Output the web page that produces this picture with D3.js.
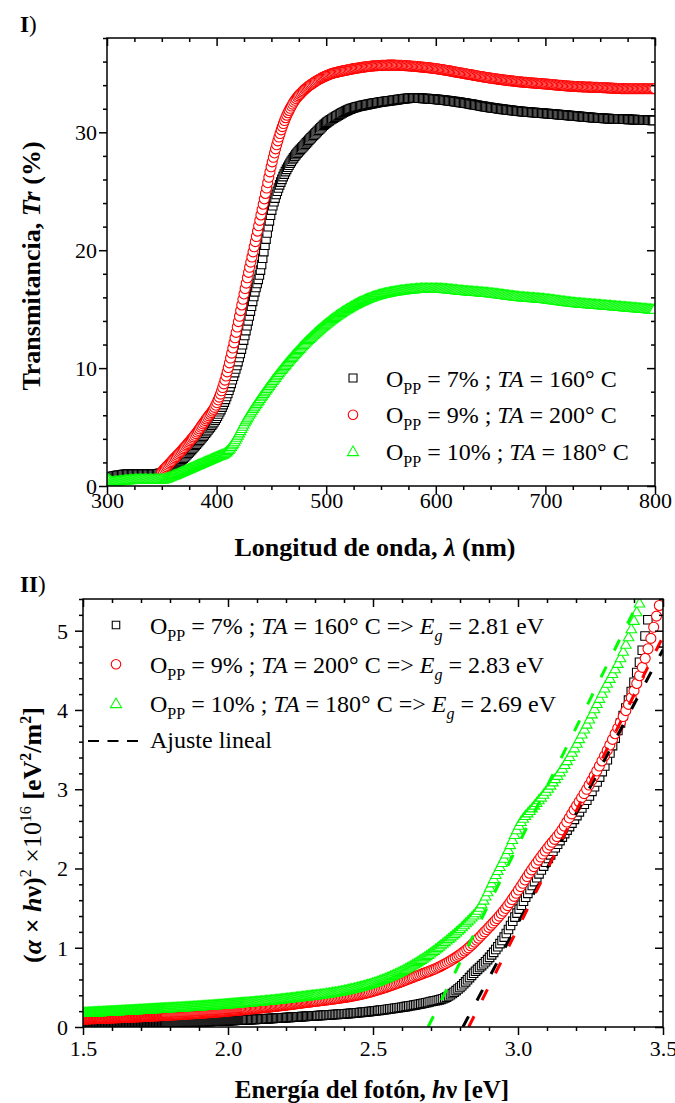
<!DOCTYPE html>
<html>
<head>
<meta charset="utf-8">
<script src="https://cdn.jsdelivr.net/npm/d3@7"></script>
<style>
  body { margin: 0; background: #fff; }
  text { font-family: "Liberation Serif", "Times New Roman", serif; fill: #000; white-space: pre; }
</style>
</head>
<body>
<script>
// ---------------- data ----------------
// legend pieces
var legendPP = ["7%", "9%", "10%"];
var legendTA = ["160", "200", "180"];
var legendEg = ["2.81", "2.83", "2.69"];
var seriesColor = ["#000000", "#ff0000", "#00ff00"];
var seriesSymbol = ["square", "circle", "triangle"];

// panel I: transmittance vs wavelength
var wlBlack = [300,310,320,330,340,350,360,370,380,390,400,405,410,415,420,425,430,435,440,445,450,455,460,470,480,490,500,510,520,540,560,580,600,625,650,675,700,725,750,775,800];
var trBlack = [0.7,0.9,1.0,1.0,1.0,1.1,1.6,2.4,3.4,4.5,5.8,6.7,7.8,9.2,10.7,12.5,14.5,16.5,18.3,20.9,23.3,24.9,26.1,27.8,28.9,29.9,30.8,31.4,31.9,32.4,32.7,32.9,32.8,32.5,32.1,31.8,31.6,31.4,31.2,31.1,31.0];
var wlRed = [350,360,370,380,390,400,405,410,415,420,425,430,435,440,445,450,455,460,470,480,490,500,520,540,560,580,600,625,650,675,700,725,750,775,800];
var trRed = [1.2,2.2,3.2,4.3,5.6,7.0,8.2,9.8,11.8,14.0,16.3,18.5,20.6,22.8,25.0,27.2,29.0,30.5,32.5,33.6,34.3,34.8,35.3,35.6,35.7,35.6,35.4,35.0,34.6,34.3,34.1,33.9,33.8,33.7,33.7];
var wlGreen = [300,305,310,320,330,340,350,360,370,380,390,400,410,415,420,425,430,440,450,460,470,480,490,500,510,520,530,540,550,560,575,590,600,625,650,675,700,725,750,775,800];
var trGreen = [0.6,0.3,0.35,0.45,0.5,0.5,0.5,0.8,1.2,1.6,2.0,2.4,2.9,3.5,4.3,5.2,6.0,7.4,8.7,9.9,11.0,12.0,12.9,13.7,14.4,15.0,15.5,15.9,16.2,16.4,16.6,16.7,16.7,16.5,16.3,16.0,15.8,15.5,15.3,15.1,14.9];

// panel II: (alpha*h*nu)^2 vs photon energy
var eBlack = [1.5,1.75,2.0,2.25,2.5,2.6,2.7,2.75,2.8,2.85,2.9,2.95,3.0,3.05,3.1,3.15,3.2,3.25,3.3,3.35,3.4,3.43,3.455];
var aBlack = [0.03,0.05,0.08,0.13,0.2,0.25,0.32,0.37,0.5,0.69,0.87,1.12,1.46,1.79,2.1,2.38,2.65,2.94,3.3,3.8,4.35,4.78,5.3];
var eRed = [1.5,1.75,2.0,2.25,2.5,2.64,2.75,2.82,2.89,2.96,3.0,3.05,3.1,3.15,3.19,3.24,3.29,3.34,3.39,3.43,3.455,3.478,3.492];
var aRed = [0.1,0.14,0.2,0.3,0.45,0.63,0.8,0.97,1.22,1.51,1.72,2.0,2.25,2.48,2.72,3.02,3.36,3.74,4.15,4.55,4.86,5.19,5.38];
var eGreen = [1.5,1.75,2.0,2.25,2.4,2.52,2.64,2.75,2.82,2.87,2.915,2.96,3.007,3.053,3.1,3.168,3.225,3.294,3.363,3.421];
var aGreen = [0.17,0.22,0.28,0.37,0.45,0.57,0.78,1.07,1.3,1.51,1.85,2.18,2.56,2.77,2.98,3.34,3.72,4.23,4.73,5.36];
// linear fits: band gap (x intercept) and slope
var fitEg = [2.81, 2.83, 2.69];
var fitSlope = [6.9, 7.35, 7.4];

// axis ticks
var wlTicks = [300, 400, 500, 600, 700, 800];
var trTicks = [0, 10, 20, 30];
var eTicks = [1.5, 2.0, 2.5, 3.0, 3.5];
var aTicks = [0, 1, 2, 3, 4, 5];

// ---------------- page ----------------
var W = 675, H = 1103;
var svg = d3.select("body").append("svg").attr("width", W).attr("height", H);

// frame + ticks for one panel
function drawAxes(g, x, y, w, h, xMajor, xMinor, yMajor, yMinor, xFmt, yPad, xLabelY) {
  function ax(gen, tr, vals, size, fmt) {
    var a = g.append("g").attr("transform", tr)
      .call(gen.tickValues(vals).tickSize(size).tickSizeOuter(0).tickFormat(fmt || ""));
    a.select(".domain").remove();
    a.selectAll("line").attr("stroke-width", 1.5);
    a.selectAll("text").attr("font-size", 22).attr("font-family", "Liberation Serif");
    return a;
  }
  var b = ax(d3.axisBottom(x), "translate(0," + h + ")", xMajor, 8, xFmt);
  b.selectAll("text").attr("y", xLabelY).attr("dy", null);
  ax(d3.axisBottom(x), "translate(0," + h + ")", xMinor, 4);
  ax(d3.axisBottom(x), "translate(0,0)", xMajor, 8);
  ax(d3.axisBottom(x), "translate(0,0)", xMinor, 4);
  var l = ax(d3.axisLeft(y), "translate(0,0)", yMajor, 8, d3.format("d"));
  l.selectAll("text").attr("x", -8 - yPad).attr("dy", "0.34em");
  ax(d3.axisLeft(y), "translate(0,0)", yMinor, 4);
  ax(d3.axisLeft(y), "translate(" + w + ",0)", yMajor, 8);
  ax(d3.axisLeft(y), "translate(" + w + ",0)", yMinor, 4);
  g.append("rect").attr("width", w).attr("height", h)
    .attr("fill", "none").attr("stroke", "#000").attr("stroke-width", 1.5);
}

function symbolPath(kind, s) {
  if (kind === "square") return "M" + (-s / 2) + "," + (-s / 2) + "h" + s + "v" + s + "h" + (-s) + "Z";
  if (kind === "triangle") {
    var hh = s * Math.sqrt(3) / 2;
    return "M0," + (-hh * 2 / 3) + "L" + (s / 2) + "," + (hh / 3) + "L" + (-s / 2) + "," + (hh / 3) + "Z";
  }
  var r = s / 2;
  return "M" + r + ",0A" + r + "," + r + " 0 1,1 " + (-r) + ",0A" + r + "," + r + " 0 1,1 " + r + ",0Z";
}

// draw the read values as a smooth curve and stamp the symbols along it,
// one symbol per nm of wavelength, the way the instrument sampled it
function drawSeries(g, xs, ys, x, y, toNm, kind, size, color) {
  var d = d3.line().x(function(p) { return x(p[0]); }).y(function(p) { return y(p[1]); })
    .curve(d3.curveMonotoneX)(d3.zip(xs, ys));
  var guide = g.append("path").attr("d", d).attr("fill", "none").attr("stroke", "none");
  var node = guide.node(), L = node.getTotalLength(), pts = [], last = null;
  for (var s = 0; s <= L; s += 0.25) {
    var pt = node.getPointAtLength(s);
    var nm = toNm(x.invert(pt.x));
    if (last === null || Math.abs(nm - last) >= 1) { pts.push([pt.x, pt.y]); last = nm; }
  }
  guide.remove();
  g.append("g").selectAll("path").data(pts).enter().append("path")
    .attr("d", symbolPath(kind, size))
    .attr("transform", function(p) { return "translate(" + p[0] + "," + p[1] + ")"; })
    .attr("fill", "#fff").attr("stroke", color).attr("stroke-width", 1.1);
}

function legendLabel(g, lx, ly, i, withEg) {
  var t = g.append("text").attr("x", lx).attr("y", ly).attr("font-size", 24);
  t.append("tspan").text("O");
  t.append("tspan").attr("font-size", 16).attr("dy", 7).text("PP");
  t.append("tspan").attr("dy", -7).text(" = " + legendPP[i] + " ; ");
  t.append("tspan").attr("font-style", "italic").text("TA");
  t.append("tspan").text(" = " + legendTA[i] + "\u00b0 C");
  if (withEg) {
    t.append("tspan").text(" => ");
    t.append("tspan").attr("font-style", "italic").text("E");
    t.append("tspan").attr("font-style", "italic").attr("font-size", 16).attr("dy", 7).text("g");
    t.append("tspan").attr("dy", -7).text(" = " + legendEg[i] + " eV");
  }
}

// ---------------- panel I ----------------
var w1 = 548, h1 = 448;
var g1 = svg.append("g").attr("transform", "translate(107,38)");
var x1 = d3.scaleLinear().domain([300, 800]).range([0, w1]);
var y1 = d3.scaleLinear().domain([0, 38]).range([h1, 0]);
svg.append("clipPath").attr("id", "clip1").append("rect").attr("width", w1).attr("height", h1);
var plot1 = g1.append("g").attr("clip-path", "url(#clip1)");
var topX = [wlBlack, wlRed, wlGreen], topY = [trBlack, trRed, trGreen];
var symSize = [8.5, 10, 10.5];
[0, 1, 2].forEach(function(i) {
  drawSeries(plot1, topX[i], topY[i], x1, y1, function(v) { return v; },
    seriesSymbol[i], symSize[i], seriesColor[i]);
});
drawAxes(g1, x1, y1, w1, h1, wlTicks,
  d3.range(300, 801, 25).filter(function(v) { return v % 100; }),
  trTicks, d3.range(0, 39, 2).filter(function(v) { return v % 10; }),
  d3.format("d"), 2, 22);

// legend I
var leg1 = svg.append("g");
[0, 1, 2].forEach(function(i) {
  var cy = 378 + i * 36.7;
  leg1.append("path").attr("d", symbolPath(seriesSymbol[i], [8, 9.5, 11][i]))
    .attr("transform", "translate(353," + (cy + (i === 2 ? 1 : 0)) + ")")
    .attr("fill", "#fff").attr("stroke", seriesColor[i]).attr("stroke-width", 1.1);
  legendLabel(leg1, 386, cy + 8.5, i, false);
});

svg.append("text").attr("x", 20).attr("y", 32).attr("font-size", 23)
  .call(function(t) {
    t.append("tspan").attr("font-weight", "bold").text("I");
    t.append("tspan").text(")");
  });
svg.append("text").attr("x", 375).attr("y", 556).attr("text-anchor", "middle")
  .attr("font-size", 26).attr("font-weight", "bold")
  .call(function(t) {
    t.append("tspan").text("Longitud de onda, ");
    t.append("tspan").attr("font-style", "italic").text("\u03bb");
    t.append("tspan").text(" (nm)");
  });
svg.append("text").attr("transform", "translate(40,266) rotate(-90)").attr("text-anchor", "middle")
  .attr("font-size", 26).attr("font-weight", "bold")
  .call(function(t) {
    t.append("tspan").text("Transmitancia, ");
    t.append("tspan").attr("font-style", "italic").text("Tr");
    t.append("tspan").text(" (%)");
  });

// ---------------- panel II ----------------
var w2 = 580, h2 = 428;
var g2 = svg.append("g").attr("transform", "translate(83,599)");
var x2 = d3.scaleLinear().domain([1.5, 3.5]).range([0, w2]);
var y2 = d3.scaleLinear().domain([0, 5.4]).range([h2, 0]);
svg.append("clipPath").attr("id", "clip2").append("rect").attr("width", w2).attr("height", h2);
var plot2 = g2.append("g").attr("clip-path", "url(#clip2)");
var botX = [eBlack, eRed, eGreen], botY = [aBlack, aRed, aGreen];
[0, 1, 2].forEach(function(i) {
  drawSeries(plot2, botX[i], botY[i], x2, y2, function(v) { return 1240 / v; },
    seriesSymbol[i], symSize[i], seriesColor[i]);
});
// linear fits
[0, 1, 2].forEach(function(i) {
  var x0 = fitEg[i], xe = 3.5;
  plot2.append("line")
    .attr("x1", x2(x0)).attr("y1", y2(0))
    .attr("x2", x2(xe)).attr("y2", y2(fitSlope[i] * (xe - x0)))
    .attr("stroke", seriesColor[i]).attr("stroke-width", 3)
    .attr("stroke-dasharray", "12,18");
});
drawAxes(g2, x2, y2, w2, h2, eTicks,
  d3.range(1.5, 3.501, 0.1).filter(function(v) { return Math.abs(v * 2 - Math.round(v * 2)) > 0.01; }),
  aTicks, d3.range(0, 5.41, 0.2).filter(function(v) { return Math.abs(v - Math.round(v)) > 0.01; }),
  d3.format(".1f"), 7, 29);

// legend II
var leg2 = svg.append("g");
[0, 1, 2].forEach(function(i) {
  var cy = 625 + i * 39.2;
  leg2.append("path").attr("d", symbolPath(seriesSymbol[i], [7.5, 9.5, 11][i]))
    .attr("transform", "translate(116," + (cy + (i === 2 ? 1 : 0)) + ")")
    .attr("fill", "#fff").attr("stroke", seriesColor[i]).attr("stroke-width", 1.1);
  legendLabel(leg2, 150, cy + 8.5, i, true);
});
leg2.append("line").attr("x1", 88).attr("x2", 139).attr("y1", 741).attr("y2", 741)
  .attr("stroke", "#000").attr("stroke-width", 2.2).attr("stroke-dasharray", "11,8.5");
leg2.append("text").attr("x", 150).attr("y", 748).attr("font-size", 24).text("Ajuste lineal");

svg.append("text").attr("x", 20).attr("y", 592).attr("font-size", 23)
  .call(function(t) {
    t.append("tspan").attr("font-weight", "bold").text("II");
    t.append("tspan").text(")");
  });
svg.append("text").attr("x", 372).attr("y", 1098).attr("text-anchor", "middle")
  .attr("font-size", 25).attr("font-weight", "bold")
  .call(function(t) {
    t.append("tspan").text("Energ\u00eda del fot\u00f3n, ");
    t.append("tspan").attr("font-style", "italic").text("h");
    t.append("tspan").text("\u03bd [eV]");
  });
svg.append("text").attr("transform", "translate(41,835) rotate(-90)").attr("text-anchor", "middle")
  .attr("font-size", 26).attr("font-weight", "bold")
  .call(function(t) {
    t.append("tspan").text("(");
    t.append("tspan").attr("font-style", "italic").text("\u03b1");
    t.append("tspan").text(" \u00d7 ");
    t.append("tspan").attr("font-style", "italic").text("h");
    t.append("tspan").text("\u03bd)");
    t.append("tspan").attr("font-size", 16).attr("dy", -10).attr("font-weight", "normal").text("2");
    t.append("tspan").attr("dy", 10).attr("font-weight", "normal").text(" \u00d710");
    t.append("tspan").attr("font-size", 16).attr("dy", -10).attr("font-weight", "normal").text("16");
    t.append("tspan").attr("dy", 10).text(" [eV");
    t.append("tspan").attr("font-size", 16).attr("dy", -10).text("2");
    t.append("tspan").attr("dy", 10).text("/m");
    t.append("tspan").attr("font-size", 16).attr("dy", -10).text("2");
    t.append("tspan").attr("dy", 10).text("]");
  });
</script>
</body>
</html>
